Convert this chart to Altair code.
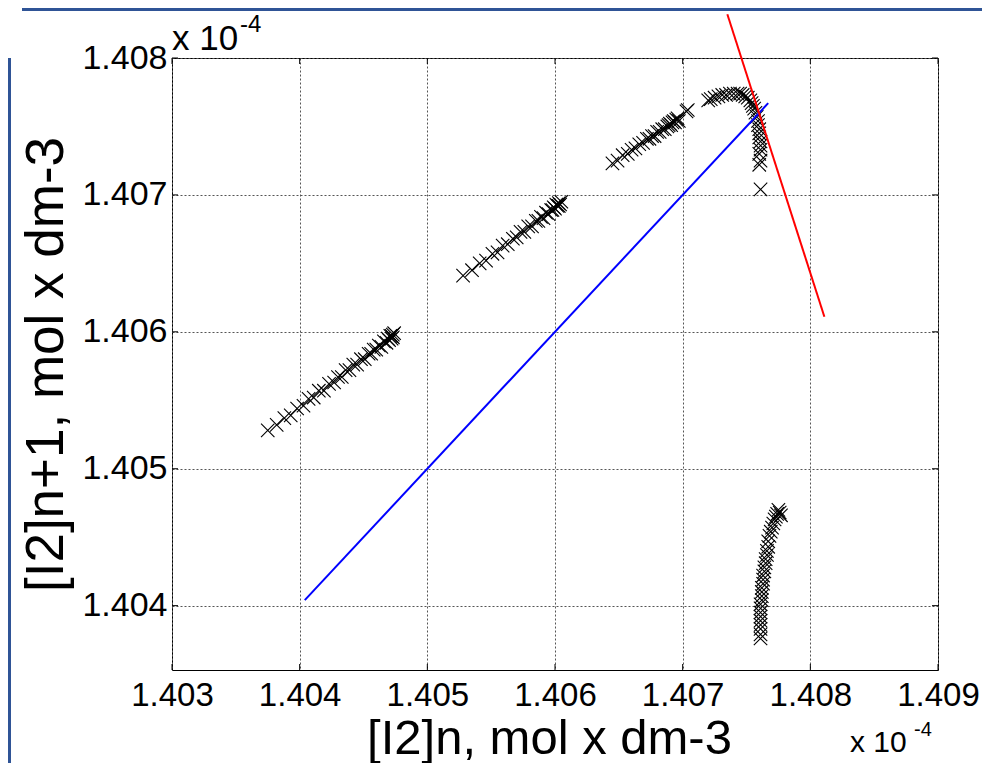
import altair as alt
import pandas as pd

# ---- data (values in units of 1e-4 mol dm-3) ----
c1_x = [1.40375, 1.40382, 1.40388, 1.40393, 1.40398, 1.40403, 1.40407, 1.40411, 1.40415, 1.40419,
        1.40423, 1.40427, 1.40430, 1.40433, 1.40436, 1.40439, 1.40442, 1.40445, 1.40448, 1.40451,
        1.40454, 1.40456, 1.40458, 1.40460, 1.40462, 1.40464, 1.40466, 1.40468, 1.40469, 1.40470,
        1.40471, 1.40472, 1.40473, 1.40473, 1.40474, 1.40472]
c1_y = [1.40528, 1.40532, 1.40537, 1.40539, 1.40544, 1.40546, 1.40551, 1.40552, 1.40557, 1.40557,
        1.40562, 1.40563, 1.40567, 1.40567, 1.40572, 1.40572, 1.40576, 1.40576, 1.40580, 1.40580,
        1.40584, 1.40584, 1.40587, 1.40587, 1.40590, 1.40589, 1.40593, 1.40592, 1.40595, 1.40594,
        1.40597, 1.40595, 1.40598, 1.40596, 1.40599, 1.40597]

c2_x = [1.40528, 1.40535, 1.40541, 1.40546, 1.40551, 1.40555, 1.40559, 1.40563, 1.40567, 1.40570,
        1.40573, 1.40576, 1.40579, 1.40582, 1.40585, 1.40587, 1.40589, 1.40591, 1.40593, 1.40595,
        1.40597, 1.40598, 1.40599, 1.40600, 1.40601, 1.40602, 1.40603, 1.40604, 1.40605, 1.40603]
c2_y = [1.40641, 1.40645, 1.40650, 1.40652, 1.40657, 1.40658, 1.40663, 1.40664, 1.40668, 1.40669,
        1.40673, 1.40673, 1.40677, 1.40677, 1.40681, 1.40681, 1.40684, 1.40683, 1.40687, 1.40686,
        1.40689, 1.40689, 1.40691, 1.40690, 1.40693, 1.40692, 1.40694, 1.40693, 1.40695, 1.40692]

c3_x = [1.40645, 1.40649, 1.40653, 1.40657, 1.40660, 1.40663, 1.40666, 1.40669, 1.40672, 1.40674,
        1.40676, 1.40678, 1.40680, 1.40682, 1.40684, 1.40686, 1.40688, 1.40689, 1.40690, 1.40691,
        1.40692, 1.40693, 1.40694, 1.40695, 1.40696, 1.40697, 1.40703, 1.40704]
c3_y = [1.40723, 1.40725, 1.40729, 1.40730, 1.40733, 1.40734, 1.40737, 1.40738, 1.40741, 1.40741,
        1.40743, 1.40743, 1.40746, 1.40746, 1.40748, 1.40748, 1.40750, 1.40751, 1.40752, 1.40751,
        1.40753, 1.40754, 1.40753, 1.40755, 1.40756, 1.40754, 1.40761, 1.40762]

c4_x = [1.40720, 1.40722, 1.40725, 1.40728, 1.40731, 1.40734, 1.40737, 1.40740, 1.40743, 1.40745,
        1.40747, 1.40749, 1.40751, 1.40753, 1.40754, 1.40755, 1.40756, 1.40757, 1.40758, 1.40759,
        1.40759, 1.40760, 1.40760, 1.40760, 1.40761, 1.40761, 1.40761, 1.40760, 1.40761, 1.40760,
        1.40761]
c4_y = [1.40769, 1.40770, 1.40771, 1.40772, 1.40773, 1.40773, 1.40774, 1.40774, 1.40774, 1.40774,
        1.40773, 1.40772, 1.40771, 1.40769, 1.40767, 1.40765, 1.40763, 1.40760, 1.40757, 1.40754,
        1.40751, 1.40748, 1.40745, 1.40742, 1.40739, 1.40736, 1.40733, 1.40730, 1.40725, 1.40722,
        1.40704]

c5_x = [1.40775, 1.40776, 1.40774, 1.40773, 1.40772, 1.40777, 1.40771, 1.40770, 1.40769, 1.40768,
        1.40767, 1.40767, 1.40766, 1.40766, 1.40765, 1.40765, 1.40764, 1.40764, 1.40763, 1.40763,
        1.40763, 1.40762, 1.40762, 1.40762, 1.40762, 1.40761, 1.40761, 1.40761, 1.40761, 1.40761,
        1.40761, 1.40761, 1.40761, 1.40761]
c5_y = [1.40470, 1.40468, 1.40467, 1.40465, 1.40463, 1.40466, 1.40460, 1.40457, 1.40454, 1.40451,
        1.40447, 1.40443, 1.40440, 1.40437, 1.40434, 1.40431, 1.40428, 1.40425, 1.40422, 1.40419,
        1.40416, 1.40413, 1.40410, 1.40407, 1.40404, 1.40401, 1.40398, 1.40395, 1.40392, 1.40389,
        1.40386, 1.40383, 1.40379, 1.40376]

blue_x = [1.40404, 1.40767]
blue_y = [1.40404, 1.40767]
red_x = [1.40735, 1.40811]
red_y = [1.40832, 1.40611]

x_ticks = [1.403, 1.404, 1.405, 1.406, 1.407, 1.408, 1.409]
y_ticks = [1.404, 1.405, 1.406, 1.407, 1.408]
x_domain = [1.403, 1.409]
y_domain = [1.40353, 1.408]

x_title = "[I2]n, mol x dm-3"
y_title = "[I2]n+1, mol x dm-3"

# ---- build tables ----
pts = pd.DataFrame({
    "x": c1_x + c2_x + c3_x + c4_x + c5_x,
    "y": c1_y + c2_y + c3_y + c4_y + c5_y,
})
blue = pd.DataFrame({"x": blue_x, "y": blue_y})
red = pd.DataFrame({"x": red_x, "y": red_y})
xt = pd.DataFrame({"t": x_ticks})
yt = pd.DataFrame({"t": y_ticks})

W, H = 766, 612
FONT = "Liberation Sans, Arial, sans-serif"

xscale = alt.Scale(domain=x_domain, nice=False, zero=False)
yscale = alt.Scale(domain=y_domain, nice=False, zero=False)

xaxis = alt.Axis(values=x_ticks, format=".3f", title=x_title, labelFontSize=33,
                 labelPadding=9, labelFlush=False, labelOverlap=False,
                 titleFontSize=49, titleX=377, titleY=83,
                 titleBaseline="alphabetic", titleAlign="center")
yaxis = alt.Axis(values=y_ticks, format=".3f", title=y_title, labelFontSize=34,
                 labelPadding=5, labelFlush=False, labelOverlap=False,
                 titleFontSize=53, titleX=-110, titleY=306,
                 titleAngle=270, titleBaseline="alphabetic", titleAlign="center")

XSHAPE = "M-1,-1L1,1M-1,1L1,-1"

scatter = alt.Chart(pts).mark_point(shape=XSHAPE, size=180, filled=False,
                                    color="black", strokeWidth=1.1, opacity=1).encode(
    x=alt.X("x:Q", scale=xscale, axis=xaxis),
    y=alt.Y("y:Q", scale=yscale, axis=yaxis),
)

blue_line = alt.Chart(blue).mark_line(color="#0000ff", strokeWidth=2).encode(
    x=alt.X("x:Q", scale=xscale), y=alt.Y("y:Q", scale=yscale))
red_line = alt.Chart(red).mark_line(color="#ff0000", strokeWidth=2).encode(
    x=alt.X("x:Q", scale=xscale), y=alt.Y("y:Q", scale=yscale))

tk = dict(color="black", strokeWidth=1)
tick_bottom = alt.Chart(xt).mark_rule(**tk).encode(
    x=alt.X("t:Q", scale=xscale), y=alt.value(H), y2=alt.value(H - 6))
tick_top = alt.Chart(xt).mark_rule(**tk).encode(
    x=alt.X("t:Q", scale=xscale), y=alt.value(0), y2=alt.value(6))
tick_left = alt.Chart(yt).mark_rule(**tk).encode(
    y=alt.Y("t:Q", scale=yscale), x=alt.value(0), x2=alt.value(6))
tick_right = alt.Chart(yt).mark_rule(**tk).encode(
    y=alt.Y("t:Q", scale=yscale), x=alt.value(W), x2=alt.value(W - 6))

one = alt.Data(values=[{}])


def label(txt, x, y, size):
    return alt.Chart(one).mark_text(text=txt, font=FONT, fontSize=size, color="black",
                                    align="left", baseline="alphabetic").encode(
        x=alt.value(x), y=alt.value(y))


exp_top = label("x 10", 0, -8, 35)
exp_top_sup = label("-4", 68, -26, 24)
exp_bot = label("x 10", 678, 694, 30)
exp_bot_sup = label("-4", 742, 678, 20)

frame_col = "#2f5496"
frame_top = alt.Chart(one).mark_rule(color=frame_col, strokeWidth=3).encode(
    x=alt.value(-150), x2=alt.value(830), y=alt.value(-48.5))
frame_left = alt.Chart(one).mark_rule(color=frame_col, strokeWidth=3).encode(
    x=alt.value(-162.5), y=alt.value(0), y2=alt.value(720))

chart = alt.layer(
    scatter, blue_line, red_line,
    tick_bottom, tick_top, tick_left, tick_right,
    exp_top, exp_top_sup, exp_bot, exp_bot_sup,
    frame_top, frame_left,
).properties(
    width=W, height=H,
    autosize=alt.AutoSizeParams(type="none"),
    padding={"left": 164, "top": 50, "right": 44, "bottom": 93},
).configure_view(
    stroke="black", strokeWidth=1,
).configure_axis(
    domain=False, ticks=False, grid=True, gridColor="#555555", gridDash=[2, 2],
    gridWidth=1, gridOpacity=1, labelFont=FONT, titleFont=FONT,
    labelColor="black", titleColor="black", titleFontWeight="normal",
)

chart.save("out.html", embed_options={"renderer": "svg", "actions": False})
